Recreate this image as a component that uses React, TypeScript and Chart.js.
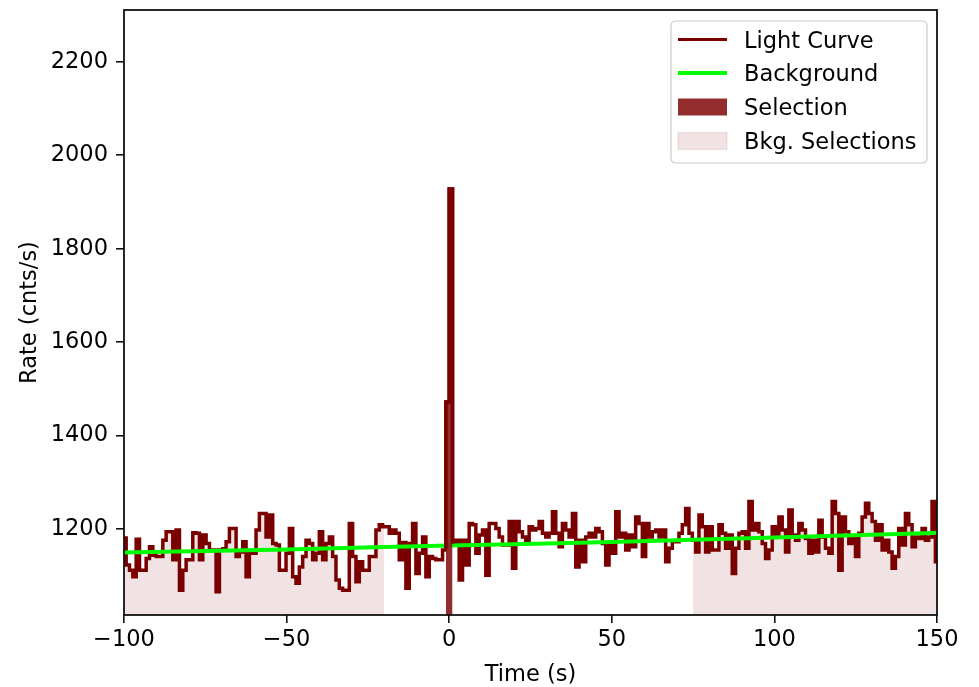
import React, { useEffect, useRef } from 'react';
import { Chart, registerables } from 'chart.js';

Chart.register(...registerables);

const FONT = '"DejaVu Sans", "Noto Sans", sans-serif';
const FS = 22.5;

// Light curve: 1.024 s bins, first bin starts at index -98 (t = -100.352 s)
const BIN_WIDTH = 1.024;
const FIRST_BIN_INDEX = -98;
const rates = [
  1181, 1123, 1112, 1098, 1178, 1112, 1112, 1137, 1162, 1144,
  1141, 1141, 1176, 1194, 1194, 1134, 1198, 1069, 1112, 1134,
  1134, 1192, 1191, 1134, 1187, 1169, 1155, 1155, 1066, 1155,
  1158, 1173, 1201, 1201, 1141, 1151, 1173, 1098, 1148, 1148,
  1198, 1233, 1233, 1183, 1230, 1169, 1166, 1112, 1112, 1148,
  1201, 1098, 1084, 1119, 1141, 1176, 1169, 1134, 1148, 1194,
  1134, 1169, 1183, 1141, 1091, 1073, 1069, 1069, 1212, 1141,
  1087, 1130, 1112, 1112, 1141, 1141, 1198, 1209, 1205, 1205,
  1191,
  1198, 1191, 1134, 1171, 1073, 1169, 1212, 1105, 1148, 1183,
  1098, 1141, 1137, 1134, 1134, 1155, 1472, 1928, 1169, 1176,
  1091, 1176, 1123, 1212, 1209, 1148, 1187, 1198, 1101, 1212,
  1212, 1201, 1183, 1166, 1166, 1216, 1116, 1216, 1194, 1183,
  1173, 1205, 1198, 1201, 1216, 1191, 1183, 1191, 1237, 1191,
  1162, 1212, 1198, 1183, 1233, 1119, 1176, 1130, 1183, 1191,
  1183, 1201, 1194, 1169, 1123, 1169, 1148, 1237, 1183, 1191,
  1155, 1187, 1162, 1226, 1212, 1141, 1212, 1183, 1194, 1198,
  1183,
  1198, 1130, 1159, 1173, 1173,
  1191, 1209, 1244, 1191, 1176, 1151,
  1230, 1205, 1151, 1205, 1155, 1155, 1209, 1191, 1159, 1187,
  1105, 1159, 1191, 1194, 1159, 1259, 1198, 1212, 1194, 1169,
  1137, 1155, 1205, 1183, 1226, 1198, 1151, 1241, 1187, 1176,
  1212, 1198, 1180, 1148, 1176, 1151, 1219, 1183, 1159, 1148,
  1259, 1233, 1112, 1226, 1194, 1169, 1183, 1141, 1191, 1226,
  1255, 1233, 1216, 1176, 1209, 1155, 1176, 1151, 1116, 1141,
  1201, 1166, 1233, 1209, 1162, 1183, 1180, 1201, 1176, 1183,
  1259, 1130,
];

// Background model
const bkgTimes = [-100, -50, 0, 50, 100, 150];
const bkgRates = [1150, 1156, 1165, 1172, 1182, 1192];

// Selections
const sourceSelection = [-1.024, 1.024];
const bkgSelections = [
  [-100, -20],
  [75, 150],
];

// Axes
const xRange = [-100, 150];
const yRange = [1016, 2311];
const xTicks = [-100, -50, 0, 50, 100, 150];
const yTicks = [1200, 1400, 1600, 1800, 2000, 2200];

const legendLabels = ['Light Curve', 'Background', 'Selection', 'Bkg. Selections'];

const MAROON = '#7a0000';
const LC_WIDTH = 3.5;
const SEL_COLOR = 'rgba(141, 34, 34, 0.95)';
const BKG_SEL_COLOR = 'rgba(128, 0, 0, 0.11)';

const edge = (i: number) => (FIRST_BIN_INDEX + i) * BIN_WIDTH;

function stepPoints() {
  const pts = rates.map((v, i) => ({ x: edge(i), y: v }));
  pts.push({ x: edge(rates.length), y: rates[rates.length - 1] });
  return pts;
}

function stepRange(lo: number, hi: number) {
  const pts: { x: number; y: number }[] = [];
  for (let i = 0; i < rates.length; i++) {
    const l = edge(i);
    const r = edge(i + 1);
    if (r <= lo + 1e-9 || l >= hi - 1e-9) continue;
    pts.push({ x: Math.max(l, lo), y: rates[i] });
  }
  if (pts.length) pts.push({ x: hi, y: pts[pts.length - 1].y });
  return pts;
}

function selectionOutline(lo: number, hi: number) {
  let prev = rates[0];
  let next = rates[rates.length - 1];
  const inner: { x: number; y: number }[] = [];
  for (let i = 0; i < rates.length; i++) {
    const l = edge(i);
    const r = edge(i + 1);
    if (r <= lo + 1e-9) prev = rates[i];
    else if (l >= hi - 1e-9) { next = rates[i]; break; }
    else inner.push({ x: l, y: rates[i] });
  }
  return [{ x: lo, y: prev }, ...inner, { x: hi, y: next }];
}

const fmt = (v: number) => (v < 0 ? '\u2212' + Math.abs(v) : String(v));

const framePlugin = {
  id: 'frame',
  beforeDraw(chart: any) {
    const { ctx, width, height } = chart;
    ctx.save();
    ctx.fillStyle = '#ffffff';
    ctx.fillRect(0, 0, width, height);
    ctx.restore();
  },
  afterDatasetsDraw(chart: any) {
    const { ctx, chartArea: a } = chart;
    ctx.save();
    ctx.strokeStyle = '#111';
    ctx.lineWidth = 1.8;
    ctx.strokeRect(a.left, a.top, a.right - a.left, a.bottom - a.top);
    ctx.restore();
  },
  afterDraw(chart: any) {
    const { ctx } = chart;
    ctx.save();
    // legend frame
    const bx = 671, by = 21, bw = 256, bh = 142, r = 5;
    ctx.beginPath();
    ctx.moveTo(bx + r, by);
    ctx.lineTo(bx + bw - r, by);
    ctx.quadraticCurveTo(bx + bw, by, bx + bw, by + r);
    ctx.lineTo(bx + bw, by + bh - r);
    ctx.quadraticCurveTo(bx + bw, by + bh, bx + bw - r, by + bh);
    ctx.lineTo(bx + r, by + bh);
    ctx.quadraticCurveTo(bx, by + bh, bx, by + bh - r);
    ctx.lineTo(bx, by + r);
    ctx.quadraticCurveTo(bx, by, bx + r, by);
    ctx.closePath();
    ctx.fillStyle = 'rgba(255,255,255,0.8)';
    ctx.fill();
    ctx.strokeStyle = '#cccccc';
    ctx.lineWidth = 1.2;
    ctx.stroke();

    const rows = [39.5, 73, 107, 141];
    const hx0 = 678, hx1 = 727;
    // Light curve handle
    ctx.strokeStyle = MAROON;
    ctx.lineWidth = 3;
    ctx.beginPath();
    ctx.moveTo(hx0, rows[0]);
    ctx.lineTo(hx1, rows[0]);
    ctx.stroke();
    // Background handle
    ctx.strokeStyle = '#00ff00';
    ctx.lineWidth = 4;
    ctx.beginPath();
    ctx.moveTo(hx0, rows[1]);
    ctx.lineTo(hx1, rows[1]);
    ctx.stroke();
    // Selection patch
    ctx.fillStyle = SEL_COLOR;
    ctx.fillRect(hx0, rows[2] - 8.5, hx1 - hx0, 17);
    // Bkg selection patch
    ctx.fillStyle = BKG_SEL_COLOR;
    ctx.fillRect(hx0, rows[3] - 8.5, hx1 - hx0, 17);
    ctx.strokeStyle = 'rgba(128,0,0,0.08)';
    ctx.lineWidth = 1.5;
    ctx.strokeRect(hx0, rows[3] - 8.5, hx1 - hx0, 17);

    ctx.fillStyle = '#000';
    ctx.font = `${FS}px ${FONT}`;
    ctx.textAlign = 'left';
    ctx.textBaseline = 'alphabetic';
    legendLabels.forEach((t, i) => ctx.fillText(t, 744, rows[i] + 8));
    ctx.restore();
  },
};

export default function App() {
  const ref = useRef<HTMLCanvasElement>(null);

  useEffect(() => {
    const canvas = ref.current;
    if (!canvas) return;
    Chart.defaults.color = '#000';
    Chart.defaults.font.family = FONT;

    const chart = new Chart(canvas, {
      type: 'line',
      data: {
        datasets: [
          ...bkgSelections.map(([lo, hi]) => ({
            label: 'Bkg. Selections',
            data: stepRange(lo, hi),
            stepped: true,
            fill: 'start',
            backgroundColor: BKG_SEL_COLOR,
            borderColor: 'transparent',
            borderWidth: 0,
            pointRadius: 0,
            clip: 0,
            order: 10,
          })),
          {
            label: 'Light Curve',
            data: stepPoints(),
            stepped: true,
            fill: false,
            borderColor: MAROON,
            borderWidth: LC_WIDTH,
            pointRadius: 0,
            clip: 0,
            order: 8,
          },
          {
            label: 'Background',
            data: bkgTimes.map((t, i) => ({ x: t, y: bkgRates[i] })),
            fill: false,
            borderColor: '#00ff00',
            borderWidth: 4,
            cubicInterpolationMode: 'monotone',
            pointRadius: 0,
            clip: 0,
            order: 6,
          },
          {
            label: 'Selection',
            data: stepRange(sourceSelection[0], sourceSelection[1]),
            stepped: true,
            fill: 'start',
            backgroundColor: SEL_COLOR,
            borderColor: 'transparent',
            borderWidth: 0,
            pointRadius: 0,
            clip: 0,
            order: 4,
          },
          {
            label: 'Selection edge',
            data: selectionOutline(sourceSelection[0], sourceSelection[1]),
            stepped: true,
            fill: false,
            borderColor: MAROON,
            borderWidth: LC_WIDTH,
            pointRadius: 0,
            clip: 0,
            order: 2,
          },
        ] as any,
      },
      options: {
        responsive: false,
        animation: false,
        devicePixelRatio: 1,
        events: [],
        layout: { padding: { left: 0, right: 42, top: 10, bottom: 0 } },
        plugins: {
          legend: { display: false },
          tooltip: { enabled: false },
        },
        scales: {
          x: {
            type: 'linear',
            min: xRange[0],
            max: xRange[1],
            afterBuildTicks: (s: any) => {
              s.ticks = xTicks.map((v) => ({ value: v }));
            },
            afterFit: (s: any) => {
              s.height = 72;
              s.paddingLeft = 0;
              s.paddingRight = 0;
            },
            ticks: {
              autoSkip: false,
              maxRotation: 0,
              padding: 3.5,
              color: '#000',
              font: { family: FONT, size: FS },
              callback: (v: any) => fmt(Number(v)),
            },
            grid: {
              drawOnChartArea: false,
              drawTicks: true,
              tickLength: 8,
              color: '#111',
              lineWidth: 1.6,
            },
            border: { display: false },
            title: {
              display: true,
              text: 'Time (s)',
              color: '#000',
              font: { family: FONT, size: FS, lineHeight: 1 },
              padding: { top: 0, bottom: 0.5 },
            },
          },
          y: {
            type: 'linear',
            min: yRange[0],
            max: yRange[1],
            afterBuildTicks: (s: any) => {
              s.ticks = yTicks.map((v) => ({ value: v }));
            },
            afterFit: (s: any) => {
              s.width = 124;
              s.paddingTop = 0;
              s.paddingBottom = 0;
            },
            ticks: {
              autoSkip: false,
              padding: 8,
              color: '#000',
              font: { family: FONT, size: FS },
              callback: (v: any) => fmt(Number(v)),
            },
            grid: {
              drawOnChartArea: false,
              drawTicks: true,
              tickLength: 8,
              color: '#111',
              lineWidth: 1.6,
            },
            border: { display: false },
            title: {
              display: true,
              text: 'Rate (cnts/s)',
              color: '#000',
              font: { family: FONT, size: FS, lineHeight: 1.2 },
              padding: { top: 16.5, bottom: 0 },
            },
          },
        },
      } as any,
      plugins: [framePlugin],
    });

    return () => chart.destroy();
  }, []);

  return (
    <div style={{ position: 'fixed', left: 0, top: 0, width: 979, height: 687, background: '#fff' }}>
      <canvas ref={ref} width={979} height={687} style={{ display: 'block', width: 979, height: 687 }} />
    </div>
  );
}
